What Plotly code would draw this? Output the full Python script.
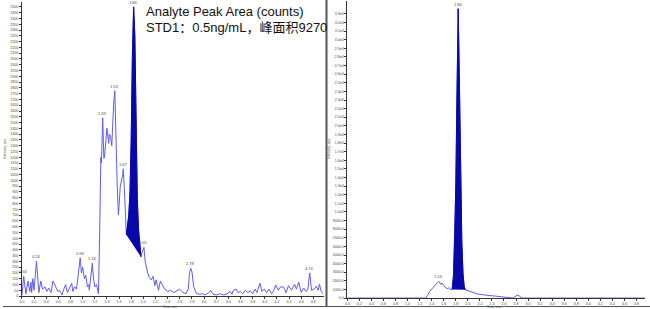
import plotly.graph_objects as go

# ---------------- data ----------------
left_time = [0.00, 0.03, 0.066, 0.10, 0.13, 0.15, 0.16, 0.18, 0.20, 0.22, 0.24, 0.28, 0.31, 0.34, 0.38,
             0.41, 0.44, 0.48, 0.51, 0.54, 0.59, 0.62, 0.66, 0.69, 0.72, 0.75, 0.79, 0.82, 0.84, 0.87,
             0.90, 0.96, 0.98, 1.00, 1.03, 1.05, 1.08, 1.10, 1.11, 1.16, 1.18, 1.20, 1.23, 1.25, 1.26,
             1.28, 1.30, 1.31, 1.33, 1.35, 1.36, 1.40, 1.41, 1.43, 1.44, 1.46, 1.48, 1.49, 1.51, 1.53,
             1.54, 1.56, 1.57, 1.59, 1.61, 1.62, 1.66, 1.67, 1.69, 1.71, 1.72, 1.74, 1.76, 1.78, 1.80,
             1.82, 1.84, 1.86, 1.88, 1.90, 1.92, 1.94, 1.96, 1.98, 2.01, 2.03, 2.05, 2.07, 2.10, 2.13,
             2.16, 2.19, 2.21, 2.25, 2.28, 2.31, 2.35, 2.40, 2.45, 2.50, 2.56, 2.60, 2.65, 2.70, 2.74,
             2.76, 2.78, 2.80, 2.83, 2.87, 2.92, 2.97, 3.02, 3.07, 3.11, 3.15, 3.20, 3.26, 3.32, 3.38,
             3.43, 3.46, 3.48, 3.53, 3.56, 3.60, 3.64, 3.68, 3.72, 3.76, 3.80, 3.84, 3.87, 3.92, 3.95,
             3.99, 4.03, 4.07, 4.11, 4.14, 4.18, 4.22, 4.26, 4.31, 4.35, 4.39, 4.44, 4.49, 4.52, 4.56,
             4.60, 4.64, 4.68, 4.71, 4.74, 4.77, 4.81, 4.85, 4.88, 4.90, 4.93, 4.96]
left_intensity = [10, 170, 20, 130, 40, 120, 30, 150, 50, 180, 300, 30, 130, 60, 80,
                  40, 70, 30, 130, 100, 40, 50, 10, 60, 100, 30, 80, 110, 40, 80,
                  60, 330, 200, 250, 150, 180, 80, 100, 50, 285, 150, 80, 100, 60, 20,
                  520, 1200, 1150, 1540, 1190, 1200, 1450, 1380, 1320, 1400, 1380, 1300, 1450, 1650, 1775,
                  1500, 1100, 950, 700, 850, 950, 1050, 1100, 900, 600, 530, 600, 700, 900, 1350,
                  2100, 2500, 2250, 1450, 850, 580, 420, 340, 380, 420, 300, 240, 200, 160, 140,
                  170, 90, 140, 50, 130, 100, 60, 40, 50, 30, 45, 60, 30, 20, 60,
                  200, 240, 210, 80, 25, 15, 20, 10, 25, 50, 15, 10, 20, 10, 20,
                  40, 15, 50, 60, 30, 40, 20, 50, 30, 45, 20, 60, 30, 112, 40,
                  60, 30, 60, 20, 40, 95, 50, 80, 78, 30, 90, 50, 103, 60, 120,
                  30, 70, 40, 60, 200, 50, 60, 86, 50, 103, 40, 20]
left_peak_window = (1.72, 1.96)
left_label_times = [0.03, 0.24, 0.96, 1.16, 1.33, 1.53, 1.67, 1.84, 2.01, 2.78, 4.74]
left_label_texts = ["0.04", "0.24", "0.96", "1.16", "1.33", "1.53", "1.67", "1.84", "2.01", "2.78", "4.74"]

right_time = [0.00, 1.30, 1.33, 1.37, 1.41, 1.44, 1.47, 1.52, 1.55, 1.57, 1.60, 1.63, 1.66, 1.69, 1.72,
              1.74, 1.76, 1.78, 1.80, 1.82, 1.84, 1.86, 1.88, 1.90, 1.92, 1.94, 1.96, 2.00, 2.05, 2.10,
              2.15, 2.20, 2.30, 2.40, 2.50, 2.60, 2.70, 2.75, 2.80, 2.83, 2.86, 2.90, 4.94]
right_intensity = [0, 0, 300, 800, 1100, 1400, 1600, 1950, 1600, 1750, 1400, 1200, 1100, 1200, 950,
                   1000, 2500, 6500, 13000, 24000, 33600, 25000, 13500, 6500, 2800, 1300, 950, 850, 700, 600,
                   500, 420, 330, 230, 150, 80, 30, 0, 250, 350, 200, 0, 0]
right_peak_window = (1.74, 1.96)
right_label_times = [1.52, 1.84]
right_label_texts = ["1.53", "1.84"]

title_lines = ["Analyte Peak Area (counts)", "STD1：0.5ng/mL，峰面积9270"]
axis_y_title = "Intensity, cps"
axis_x_title = "Time, min"

# ---------------- styling ----------------
W, H = 650, 309
LINE = "#5c5cf0"
FILL = "#0808a8"
AX = "#333333"
TICKF = dict(family="Liberation Sans, Arial, sans-serif", size=3.6, color="#444444")
FONT = "Liberation Sans, Arial, Noto Sans CJK SC, sans-serif"

def px(x):
    return x / W

def py(y):
    return 1 - y / H

fig = go.Figure()

def add_panel(t, v, window, xa, ya):
    fig.add_trace(go.Scatter(x=t, y=v, mode="lines", line=dict(color=LINE, width=1),
                             xaxis=xa, yaxis=ya, hoverinfo="skip", showlegend=False))
    seg_t = [a for a, b in zip(t, v) if window[0] <= a <= window[1]]
    seg_v = [b for a, b in zip(t, v) if window[0] <= a <= window[1]]
    fig.add_trace(go.Scatter(x=seg_t, y=seg_v, mode="lines", fill="toself", fillcolor=FILL,
                             line=dict(color=FILL, width=1), xaxis=xa, yaxis=ya,
                             hoverinfo="skip", showlegend=False))

add_panel(left_time, left_intensity, left_peak_window, "x", "y")
add_panel(right_time, right_intensity, right_peak_window, "x2", "y2")

ann = []
for tt, txt in zip(left_label_times, left_label_texts):
    ann.append(dict(x=tt, y=left_intensity[left_time.index(tt)], xref="x", yref="y", text=txt,
                    showarrow=False, yanchor="bottom", yshift=0, font=dict(size=4, color="#444444", family=FONT)))
for tt, txt in zip(right_label_times, right_label_texts):
    ann.append(dict(x=tt, y=right_intensity[right_time.index(tt)], xref="x2", yref="y2", text=txt,
                    showarrow=False, yanchor="bottom", yshift=0, font=dict(size=4, color="#444444", family=FONT)))

ann.append(dict(x=px(142), y=py(12), xref="paper", yref="paper", text=title_lines[0], showarrow=False,
                xanchor="left", yanchor="middle", font=dict(size=13, color="#111111", family=FONT)))
ann.append(dict(x=px(142), y=py(28), xref="paper", yref="paper", text=title_lines[1], showarrow=False,
                xanchor="left", yanchor="middle", font=dict(size=13, color="#111111", family=FONT)))
# axis titles
ann.append(dict(x=px(2), y=py(150), xref="paper", yref="paper", text=axis_y_title, showarrow=False,
                textangle=-90, xanchor="center", yanchor="middle", font=dict(size=3.5, color="#444444", family=FONT)))
ann.append(dict(x=px(327.5), y=py(150), xref="paper", yref="paper", text=axis_y_title, showarrow=False,
                textangle=-90, xanchor="center", yanchor="middle", font=dict(size=3.5, color="#444444", family=FONT)))
ann.append(dict(x=px(168), y=py(305.4), xref="paper", yref="paper", text=axis_x_title, showarrow=False,
                xanchor="center", yanchor="top", font=dict(size=3.2, color="#444444", family=FONT)))
ann.append(dict(x=px(493), y=py(305.4), xref="paper", yref="paper", text=axis_x_title, showarrow=False,
                xanchor="center", yanchor="top", font=dict(size=3.2, color="#444444", family=FONT)))

common_x = dict(showgrid=False, zeroline=False, showline=True, linecolor=AX, linewidth=1,
                ticks="outside", ticklen=1.5, tickcolor=AX, dtick=0.2, tick0=0, tickformat=".1f",
                tickfont=TICKF)
common_y = dict(showgrid=False, zeroline=False, showline=True, linecolor=AX, linewidth=1,
                ticks="outside", ticklen=2, tickcolor=AX, tickfont=TICKF)

left_x_end = (322 - 19) / 61
right_x_end = (645 - 346) / 60.5

fig.update_layout(
    width=W, height=H, margin=dict(l=0, r=0, t=0, b=0),
    paper_bgcolor="white", plot_bgcolor="white",
    xaxis=dict(domain=[px(19), px(322)], range=[0, left_x_end], anchor="y", **common_x),
    yaxis=dict(domain=[(H - 298) / H, py(2.3)], range=[0, 2540], anchor="x", dtick=50, tick0=0, **common_y),
    xaxis2=dict(domain=[px(346), px(645)], range=[0, right_x_end], anchor="y2", **common_x),
    yaxis2=dict(domain=[(H - 300) / H, py(1)], range=[0, 34500], anchor="x2",
                tickvals=[i * 1000 for i in range(0, 34)],
                ticktext=[("%.1f" % (i * 1000)) if i < 10 else ("%.1fe4" % (i / 10)) for i in range(0, 34)],
                **common_y),
    annotations=ann,
    shapes=[
        dict(type="line", xref="paper", yref="paper", x0=px(325), x1=px(325), y0=0, y1=1,
             line=dict(color="#555555", width=2)),
        dict(type="line", xref="paper", yref="paper", x0=0, x1=1, y0=py(308.5), y1=py(308.5),
             line=dict(color="#555555", width=1)),
    ],
)

fig.write_html("out.html")
